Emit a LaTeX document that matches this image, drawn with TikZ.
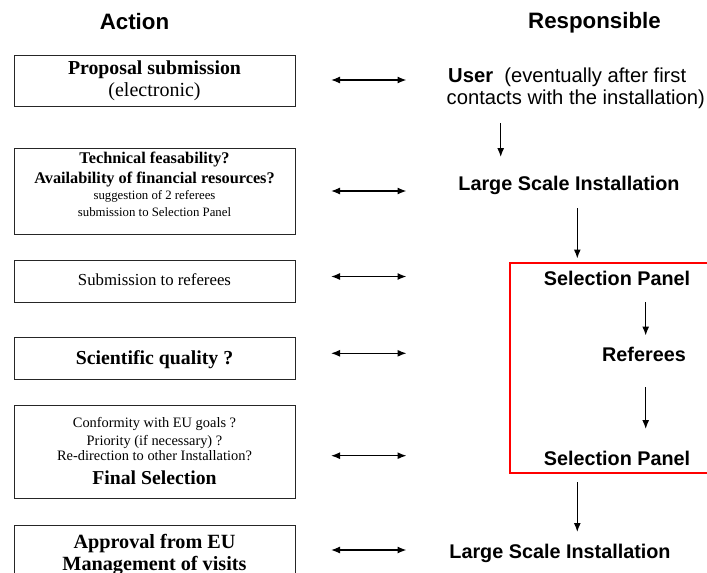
\documentclass[tikz,border=0pt]{standalone}
\usepackage{fontspec}
\setmainfont{Liberation Serif}
\newfontfamily\arial{Liberation Sans}
\usetikzlibrary{arrows.meta}
\begin{document}
\begin{tikzpicture}[x=1pt,y=-1pt,
  actbox/.style={draw=black!85, line width=1pt, minimum width=281pt, inner sep=0pt, anchor=north west},
  tx/.style={anchor=base, inner sep=0pt},
  hd/.style={tx, font=\arial\bfseries\fontsize{22.3}{26}\selectfont},
  rl/.style={tx, font=\arial\bfseries\fontsize{19.8}{24}\selectfont},
  ul/.style={tx, anchor=base west, font=\arial\fontsize{20.2}{24}\selectfont},
  tb/.style={tx, font=\bfseries\fontsize{#1}{#1}\selectfont},
  tr/.style={tx, font=\fontsize{#1}{#1}\selectfont},
  link/.style={line width=1.3pt, {Latex[length=9pt,width=7pt]}-{Latex[length=9pt,width=7pt]}},
  flow/.style={line width=1.2pt, -{Latex[length=9pt,width=7pt]}},
]
\useasboundingbox (0,0) rectangle (707,573);
\fill[white] (0,0) rectangle (707,573);

% headers
\node[hd] (hact) at (134.5,29) {Action};
\node[hd] (hresp) at (594.5,28.5) {Responsible};

% action boxes
\node[actbox, minimum height=51pt] (b1) at (14,55) {};
\node[actbox, minimum height=86pt] (b2) at (14,148) {};
\node[actbox, minimum height=42pt] (b3) at (14,260) {};
\node[actbox, minimum height=42pt] (b4) at (14,337) {};
\node[actbox, minimum height=93pt] (b5) at (14,405) {};
\node[actbox, minimum height=62pt] (b6) at (14,525) {};

% box texts
\node[tb=19.8] (t1a) at (154.5,74) {Proposal submission};
\node[tr=20] (t1b) at (154.5,96.5) {(electronic)};
\node[tb=16.3] (t2a) at (154.5,163.3) {Technical feasability?};
\node[tb=16.3] (t2b) at (154.5,183.3) {Availability of financial resources?};
\node[tr=12.8] (t2c) at (154.5,199.5) {suggestion of 2 referees};
\node[tr=12.8] (t2d) at (154.5,216) {submission to Selection Panel};
\node[tr=16.8] (t3) at (154.5,285.7) {Submission to referees};
\node[tb=19.8] (t4) at (154.5,364) {Scientific quality ?};
\node[tr=14.4] (t5a) at (154.5,427.3) {Conformity with EU goals ?};
\node[tr=14.4] (t5b) at (154.5,445) {Priority (if necessary) ?};
\node[tr=14.4] (t5c) at (154.5,460.7) {Re-direction to other Installation?};
\node[tb=19.7] (t5d) at (154.5,484.3) {Final Selection};
\node[tb=20.2] (t6a) at (154.5,548.3) {Approval from EU};
\node[tb=20.2] (t6b) at (154.5,570) {Management of visits};

% responsible side
\node[ul] (user1) at (448,82) {\textbf{User}\ \ (eventually after first};
\node[ul] (user2) at (446.5,104) {contacts with the installation)};
\node[rl] (lsi1) at (569,190.7) {Large Scale Installation};
\node[draw=red, line width=1.5pt, anchor=north west, minimum width=220pt, minimum height=210pt, inner sep=0pt] (panel) at (509,262) {};
\node[rl] (sp1) at (617,285) {Selection Panel};
\node[rl] (ref) at (644,361.7) {Referees};
\node[rl] (sp2) at (617,465) {Selection Panel};
\node[rl] (lsi2) at (560,558.3) {Large Scale Installation};

% double arrows
\foreach \i/\y in {1/80,2/191,3/276.5,4/353.3,5/455.7,6/550}{
  \coordinate (l\i) at (331,\y);
  \coordinate (r\i) at (406.5,\y);
  \draw[link] (l\i) -- (r\i);
}

% flow arrows
\coordinate (f1a) at (500.7,123); \coordinate (f1b) at (500.7,157);
\coordinate (f2a) at (577.3,208); \coordinate (f2b) at (577.3,258.5);
\coordinate (f3a) at (645.7,302); \coordinate (f3b) at (645.7,335.5);
\coordinate (f4a) at (645.7,387); \coordinate (f4b) at (645.7,429);
\coordinate (f5a) at (577.3,482); \coordinate (f5b) at (577.3,532);
\draw[flow] (f1a) -- (f1b);
\draw[flow] (f2a) -- (f2b);
\draw[flow] (f3a) -- (f3b);
\draw[flow] (f4a) -- (f4b);
\draw[flow] (f5a) -- (f5b);
\end{tikzpicture}
\end{document}
